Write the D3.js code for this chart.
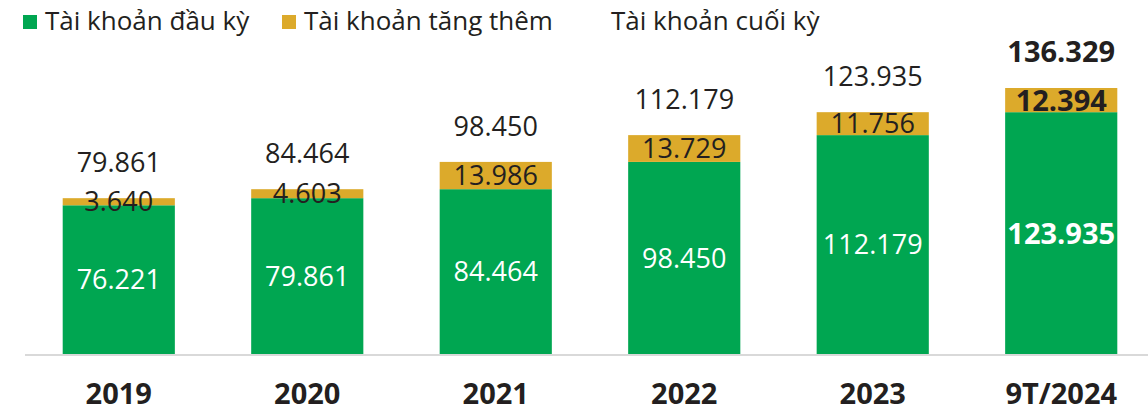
<!DOCTYPE html>
<html lang="vi">
<head>
  <meta charset="UTF-8">
  <title>Tài khoản</title>
  <style>
    body { margin: 0; padding: 0; background: #fff; }
    svg { display: block; font-family: "Open Sans", sans-serif; }
  </style>
</head>
<body>
  <div id="chart"></div>
  <script src="https://d3js.org/d3.v7.min.js"></script>
  <script>
    // Dữ liệu
    const years = ["2019", "2020", "2021", "2022", "2023", "9T/2024"];
    const openAccounts = [76221, 79861, 84464, 98450, 112179, 123935];
    const newAccounts = [3640, 4603, 13986, 13729, 11756, 12394];
    const closeAccounts = [79861, 84464, 98450, 112179, 123935, 136329];
    const legendLabels = ["Tài khoản đầu kỳ", "Tài khoản tăng thêm", "Tài khoản cuối kỳ"];

    const width = 1148, height = 413;
    const green = "#00a651", gold = "#dcaa2b", ink = "#231f20";
    const fmt = v => d3.format(",")(v).replace(/,/g, ".");

    const svg = d3.select("#chart").append("svg")
      .attr("width", width).attr("height", height);

    const x = d3.scaleBand().domain(years).range([25, 1155]).paddingInner(0.405).paddingOuter(0.2);
    const y = d3.scaleLinear().domain([0, 136329]).range([354, 88]);

    // Trục ngang
    svg.append("line")
      .attr("x1", 25).attr("x2", width)
      .attr("y1", y(0) + 1).attr("y2", y(0) + 1)
      .attr("stroke", "#d9d9d9").attr("stroke-width", 2);

    const data = years.map((yr, i) => ({ yr, a: openAccounts[i], b: newAccounts[i], c: closeAccounts[i], last: i === years.length - 1 }));

    const g = svg.selectAll("g.bar").data(data).enter().append("g").attr("class", "bar");

    g.append("rect")
      .attr("x", d => x(d.yr)).attr("width", x.bandwidth())
      .attr("y", d => y(d.a)).attr("height", d => y(0) - y(d.a))
      .attr("fill", green);

    g.append("rect")
      .attr("x", d => x(d.yr)).attr("width", x.bandwidth())
      .attr("y", d => y(d.a + d.b)).attr("height", d => y(d.a) - y(d.a + d.b))
      .attr("fill", gold);

    // Nhãn giá trị
    g.append("text")
      .attr("x", d => x(d.yr) + x.bandwidth() / 2)
      .attr("y", d => (y(0) + y(d.a)) / 2)
      .attr("dy", "0.36em")
      .attr("text-anchor", "middle")
      .attr("fill", "#fff")
      .attr("font-size", d => d.last ? 29 : 27)
      .attr("font-weight", d => d.last ? "bold" : "normal")
      .text(d => fmt(d.a));

    g.append("text")
      .attr("x", d => x(d.yr) + x.bandwidth() / 2)
      .attr("y", d => (y(d.a) + y(d.a + d.b)) / 2)
      .attr("dy", "0.36em")
      .attr("text-anchor", "middle")
      .attr("fill", ink)
      .attr("font-size", d => d.last ? 29 : 27)
      .attr("font-weight", d => d.last ? "bold" : "normal")
      .text(d => fmt(d.b));

    g.append("text")
      .attr("x", d => x(d.yr) + x.bandwidth() / 2)
      .attr("y", d => y(d.c) - 26)
      .attr("text-anchor", "middle")
      .attr("fill", ink)
      .attr("font-size", d => d.last ? 29 : 27)
      .attr("font-weight", d => d.last ? "bold" : "normal")
      .text(d => fmt(d.c));

    // Nhãn năm
    g.append("text")
      .attr("x", d => x(d.yr) + x.bandwidth() / 2)
      .attr("y", 404)
      .attr("text-anchor", "middle")
      .attr("fill", ink)
      .attr("font-size", 29)
      .attr("font-weight", "bold")
      .text(d => d.yr);

    // Chú giải
    const legendX = [23, 282, 589];
    const legendColors = [green, gold, "#fff"];
    const lg = svg.selectAll("g.legend").data(legendLabels).enter().append("g").attr("class", "legend")
      .attr("transform", (d, i) => `translate(${legendX[i]},0)`);
    lg.append("rect").attr("x", 0).attr("y", 15).attr("width", 14).attr("height", 14)
      .attr("fill", (d, i) => legendColors[i]);
    lg.append("text").attr("x", 22).attr("y", 30)
      .attr("font-size", 26).attr("fill", ink)
      .text(d => d);
  </script>
</body>
</html>
